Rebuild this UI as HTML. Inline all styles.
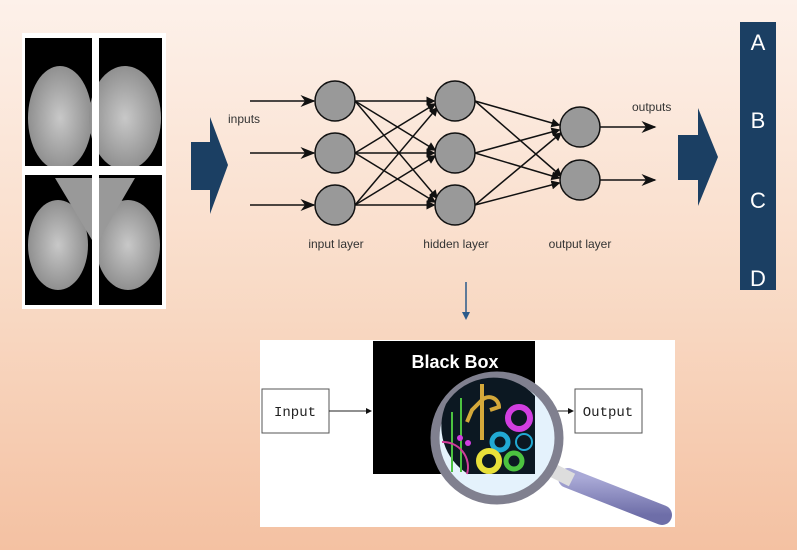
<!DOCTYPE html>
<html><head><style>
html,body{margin:0;padding:0;}
body{width:797px;height:550px;overflow:hidden;background:linear-gradient(180deg,#fdf1ea 0%,#f9dcc8 50%,#f4c1a2 100%);font-family:"Liberation Sans",sans-serif;}
svg{display:block;}
</style></head><body>
<svg width="797" height="550" viewBox="0 0 797 550" xmlns="http://www.w3.org/2000/svg">
<defs>
<marker id="ah" markerWidth="10" markerHeight="8" refX="9" refY="4" orient="auto"><path d="M0,0 L10,4 L0,8 L3,4 z" fill="#111"/></marker>
<marker id="sm" markerWidth="6" markerHeight="6" refX="5" refY="3" orient="auto"><path d="M0,0 L6,3 L0,6 z" fill="#111"/></marker>
<radialGradient id="br" cx="50%" cy="50%" r="55%"><stop offset="0" stop-color="#c8c8c8"/><stop offset="1" stop-color="#8a8a8a"/></radialGradient>
<linearGradient id="hd" x1="0" y1="0" x2="0" y2="1"><stop offset="0" stop-color="#a9a9d6"/><stop offset="1" stop-color="#6e6ea8"/></linearGradient>
</defs>
<rect x="22" y="33" width="144" height="276" fill="#fff"/>
<rect x="25" y="38" width="67" height="128" fill="#000"/>
<rect x="99" y="38" width="63" height="128" fill="#000"/>
<rect x="25" y="175" width="67" height="130" fill="#000"/>
<rect x="99" y="175" width="63" height="130" fill="#000"/>
<ellipse cx="60" cy="118" rx="32" ry="52" fill="url(#br)"/>
<ellipse cx="125" cy="118" rx="36" ry="52" fill="url(#br)"/>
<ellipse cx="58" cy="245" rx="30" ry="45" fill="url(#br)"/>
<ellipse cx="128" cy="245" rx="32" ry="45" fill="url(#br)"/>
<path d="M55,178 L92,178 L92,240 z M99,178 L135,178 L99,240 z" fill="#999"/>
<rect x="92" y="33" width="7" height="276" fill="#fff"/>
<rect x="22" y="166" width="144" height="9" fill="#fff"/>
<path d="M191,142 L210,142 L210,117 L228,165 L210,214 L210,190 L191,190 z" fill="#1b3f63"/>
<g stroke="#111" stroke-width="1.5" fill="none">
<line x1="250" y1="101" x2="314" y2="101" marker-end="url(#ah)"/>
<line x1="250" y1="153" x2="314" y2="153" marker-end="url(#ah)"/>
<line x1="250" y1="205" x2="314" y2="205" marker-end="url(#ah)"/>
<g marker-end="url(#sm)">
<line x1="355" y1="101" x2="434" y2="101"/><line x1="355" y1="101" x2="435" y2="150"/><line x1="355" y1="101" x2="437" y2="198"/>
<line x1="355" y1="153" x2="435" y2="104"/><line x1="355" y1="153" x2="434" y2="153"/><line x1="355" y1="153" x2="435" y2="202"/>
<line x1="355" y1="205" x2="437" y2="108"/><line x1="355" y1="205" x2="435" y2="156"/><line x1="355" y1="205" x2="434" y2="205"/>
<line x1="475" y1="101" x2="559" y2="125"/><line x1="475" y1="101" x2="561" y2="176"/>
<line x1="475" y1="153" x2="559" y2="130"/><line x1="475" y1="153" x2="559" y2="178"/>
<line x1="475" y1="205" x2="561" y2="133"/><line x1="475" y1="205" x2="559" y2="183"/>
</g>
<line x1="600" y1="127" x2="655" y2="127" marker-end="url(#ah)"/>
<line x1="600" y1="180" x2="655" y2="180" marker-end="url(#ah)"/>
</g>
<g fill="#999" stroke="#111" stroke-width="1.5">
<circle cx="335" cy="101" r="20"/><circle cx="335" cy="153" r="20"/><circle cx="335" cy="205" r="20"/>
<circle cx="455" cy="101" r="20"/><circle cx="455" cy="153" r="20"/><circle cx="455" cy="205" r="20"/>
<circle cx="580" cy="127" r="20"/><circle cx="580" cy="180" r="20"/>
</g>
<g font-size="12" fill="#333">
<text x="228" y="123">inputs</text>
<text x="632" y="111">outputs</text>
<text x="336" y="248" text-anchor="middle">input layer</text>
<text x="456" y="248" text-anchor="middle">hidden layer</text>
<text x="580" y="248" text-anchor="middle">output layer</text>
</g>
<path d="M678,135 L698,135 L698,108 L718,157 L698,206 L698,180 L678,180 z" fill="#1b3f63"/>
<rect x="740" y="22" width="36" height="268" fill="#1b3f63"/>
<g fill="#fff" font-size="22" text-anchor="middle">
<text x="758" y="50">A</text><text x="758" y="128">B</text><text x="758" y="208">C</text><text x="758" y="286">D</text>
</g>
<line x1="466" y1="282" x2="466" y2="316" stroke="#2b5a8a" stroke-width="1.5"/>
<path d="M462,312 L466,320 L470,312 z" fill="#2b5a8a"/>
<rect x="260" y="340" width="415" height="187" fill="#fff"/>
<rect x="373" y="341" width="162" height="133" fill="#000"/>
<text x="455" y="368" fill="#fff" font-size="18" font-weight="bold" text-anchor="middle">Black Box</text>
<rect x="262" y="389" width="67" height="44" fill="#fff" stroke="#555"/>
<text x="295" y="416" font-family="Liberation Mono,monospace" font-size="14" text-anchor="middle" fill="#222">Input</text>
<line x1="329" y1="411" x2="371" y2="411" stroke="#222" marker-end="url(#sm)"/>
<line x1="535" y1="411" x2="573" y2="411" stroke="#222" marker-end="url(#sm)"/>
<rect x="575" y="389" width="67" height="44" fill="#fff" stroke="#555"/>
<text x="608" y="416" font-family="Liberation Mono,monospace" font-size="14" text-anchor="middle" fill="#222">Output</text>
<line x1="568" y1="478" x2="662" y2="515" stroke="url(#hd)" stroke-width="20" stroke-linecap="round"/>
<line x1="552" y1="470" x2="572" y2="480" stroke="#ddd" stroke-width="14"/>
<circle cx="497" cy="438" r="62" fill="#e4f2fc" stroke="#80808f" stroke-width="9"/>
<path d="M446,404 A56,56 0 0 1 535,396 L535,474 L468,474 A56,56 0 0 1 446,404 z" fill="#0c1822"/>
<g stroke="#d4a83a" stroke-width="4" fill="none"><path d="M482,384 L482,440"/><path d="M482,400 L472,410 L467,422"/><path d="M482,400 A10,10 0 0 1 499,407 L490,410"/></g>
<circle cx="519" cy="418" r="11" fill="none" stroke="#d13ee0" stroke-width="6"/>
<circle cx="500" cy="442" r="8" fill="none" stroke="#21a9d3" stroke-width="5"/>
<circle cx="489" cy="461" r="10" fill="none" stroke="#e8e03a" stroke-width="6"/>
<circle cx="514" cy="461" r="8" fill="none" stroke="#4cc240" stroke-width="5"/>
<circle cx="524" cy="442" r="8" fill="none" stroke="#21a9d3" stroke-width="2"/>
<line x1="461" y1="398" x2="461" y2="472" stroke="#4cc240" stroke-width="2"/>
<line x1="452" y1="412" x2="452" y2="472" stroke="#4cc240" stroke-width="2"/>
<circle cx="460" cy="438" r="3" fill="#d13ee0"/><circle cx="468" cy="443" r="3" fill="#d13ee0"/>
<path d="M442,442 A25,25 0 0 1 467,474" fill="none" stroke="#d13e9a" stroke-width="2"/>
</svg>
</body></html>
